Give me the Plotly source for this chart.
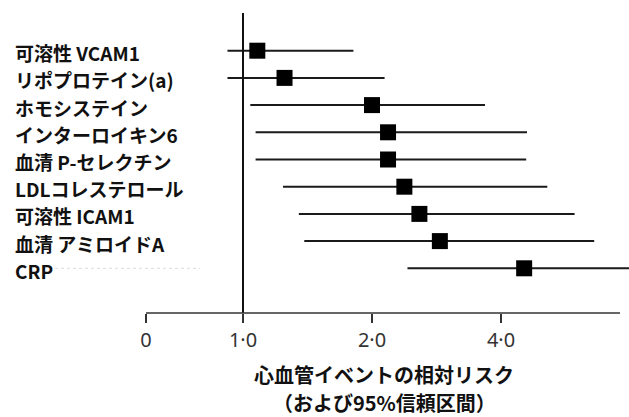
import math
import plotly.graph_objects as go

# Biomarkers (top to bottom) with relative risk and 95% CI
labels = ["可溶性 VCAM1", "リポプロテイン(a)", "ホモシステイン", "インターロイキン6",
          "血清 P-セレクチン", "LDLコレステロール", "可溶性 ICAM1", "血清 アミロイドA", "CRP"]
rr = [1.08, 1.25, 2.00, 2.18, 2.18, 2.38, 2.58, 2.88, 4.53]
ci_lo = [0.92, 0.92, 1.04, 1.07, 1.07, 1.24, 1.35, 1.39, 2.42]
ci_hi = [1.81, 2.14, 3.67, 4.60, 4.58, 5.13, 5.94, 6.60, 8.00]
open_ended = [False] * 8 + [True]  # CI continues past the axis

tick_vals = [0.594, 1.0, 2.0, 4.0]
tick_text = ["0", "1·0", "2·0", "4·0"]

title_lines = ["心血管イベントの相対リスク", "（および95%信頼区間）"]

W, H = 629, 417
ML, MR, MT, MB = 146, 0, 13, 104
pw = W - ML - MR
ph = H - MT - MB

rows = list(range(len(labels)))

# whisker segments
xs, ys = [], []
for i in rows:
    xs += [ci_lo[i], ci_hi[i], None]
    ys += [i, i, None]

fig = go.Figure()
fig.add_trace(go.Scatter(x=xs, y=ys, mode="lines",
                         line=dict(color="#1a1a1a", width=2),
                         hoverinfo="skip", showlegend=False))
fig.add_trace(go.Scatter(x=rr, y=rows, mode="markers",
                         marker=dict(symbol="square", size=16, color="#000000"),
                         showlegend=False))
fig.add_trace(go.Scatter(x=[ci_hi[i] for i in rows if open_ended[i]],
                         y=[i for i in rows if open_ended[i]], mode="markers",
                         marker=dict(symbol="triangle-right", size=11, color="#000000"),
                         cliponaxis=False, showlegend=False))

# row labels, left aligned at the figure edge
for i, lab in enumerate(labels):
    fig.add_annotation(text=f"<b>{lab}</b>", x=(13 - ML) / pw, xref="paper",
                       y=i, yref="y", xanchor="left", yanchor="middle", yshift=-2,
                       showarrow=False,
                       font=dict(family="Noto Sans CJK JP", size=19, color="#111111"))

# axis title, two centred lines
for line, py in zip(title_lines, [375, 402]):
    fig.add_annotation(text=f"<b>{line}</b>", x=(384 - ML) / pw, xref="paper",
                       y=(H - MB - py) / ph, yref="paper", borderpad=0,
                       xanchor="center", yanchor="middle", showarrow=False,
                       font=dict(family="Noto Sans CJK JP", size=20, color="#111111"))

# no-effect reference line at RR = 1
fig.add_shape(type="line", x0=1, x1=1, xref="x", y0=0, y1=1, yref="paper",
              line=dict(color="#111111", width=2))
# horizontal axis baseline
fig.add_shape(type="line", x0=0, x1=(620 - ML) / pw, xref="paper", y0=0, y1=0,
              yref="paper", line=dict(color="#333333", width=1.5))
# faint leader after the last label
fig.add_shape(type="line", x0=(55 - ML) / pw, x1=(200 - ML) / pw, xref="paper",
              y0=8, y1=8, yref="y", line=dict(color="#dddddd", width=1, dash="dot"))

px_per_decade = 129 / math.log10(2)
x_lo = -(243 - ML) / px_per_decade
x_hi = x_lo + pw / px_per_decade

fig.update_xaxes(type="log", range=[x_lo, x_hi], showgrid=False, zeroline=False,
                 showline=False, ticks="outside", ticklen=9, tickwidth=1.5,
                 tickcolor="#333333", tickvals=tick_vals, ticktext=tick_text,
                 tickfont=dict(family="Noto Sans", size=20, color="#333333"))
top = -37.7 / 27.2
fig.update_yaxes(range=[top + ph / 27.2, top], visible=False)

fig.update_layout(width=W, height=H, margin=dict(l=ML, r=MR, t=MT, b=MB),
                  plot_bgcolor="white", paper_bgcolor="white")

fig.write_html("out.html")
